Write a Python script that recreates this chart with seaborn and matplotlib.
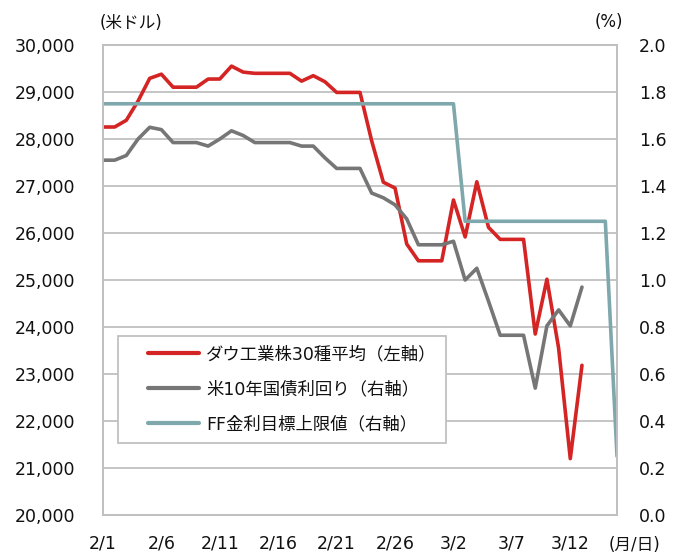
import numpy as np
import pandas as pd
import matplotlib
matplotlib.use("Agg")
import matplotlib.pyplot as plt
import seaborn as sns

# Data (daily, 2020/2/1 - 2020/3/16; weekends carry the last value)
DATES = pd.date_range("2020-02-01", "2020-03-16", freq="D")

DOW = [28256, 28256, 28400, 28808, 29291, 29380, 29103, 29103, 29103, 29276,
       29277, 29551, 29424, 29398, 29398, 29398, 29398, 29232, 29348, 29219,
       28992, 28992, 28992, 27961, 27081, 26957, 25767, 25409, 25409, 25409,
       26703, 25917, 27091, 26121, 25865, 25865, 25865, 23851, 25018, 23553,
       21200, 23186]

UST10Y = [1.51, 1.51, 1.53, 1.60, 1.65, 1.64, 1.585, 1.585, 1.585, 1.57,
          1.60, 1.635, 1.615, 1.585, 1.585, 1.585, 1.585, 1.57, 1.57, 1.52,
          1.475, 1.475, 1.475, 1.37, 1.35, 1.32, 1.26, 1.15, 1.15, 1.15,
          1.165, 1.00, 1.05, 0.91, 0.765, 0.765, 0.765, 0.54, 0.805, 0.873,
          0.805, 0.97]

FF_UPPER = [1.75] * 31 + [1.25] * 13 + [0.25]

TICK_LABELS = ["2/1", "2/6", "2/11", "2/16", "2/21", "2/26", "3/2", "3/7", "3/12"]
SERIES_LABELS = ["ダウ工業株30種平均（左軸）", "米10年国債利回り（右軸）", "FF金利目標上限値（右軸）"]
COLORS = ["#d42424", "#767676", "#7fa8ac"]

sns.set_style("white")
plt.rcParams["font.family"] = ["DejaVu Sans", "Noto Sans CJK JP"]

fig = plt.figure(figsize=(6.77, 5.56), dpi=100)
ax = fig.add_axes([0.1521, 0.0737, 0.7593, 0.8453])
ax2 = ax.twinx()

dow_df = pd.DataFrame({"date": DATES[:len(DOW)], "value": DOW})
ust_df = pd.DataFrame({"date": DATES[:len(UST10Y)], "value": UST10Y})
ff_df = pd.DataFrame({"date": DATES[:len(FF_UPPER)], "value": FF_UPPER})

sns.lineplot(data=dow_df, x="date", y="value", ax=ax, color=COLORS[0], linewidth=2.6)
sns.lineplot(data=ust_df, x="date", y="value", ax=ax2, color=COLORS[1], linewidth=2.6)
sns.lineplot(data=ff_df, x="date", y="value", ax=ax2, color=COLORS[2], linewidth=2.6)

grid_c = "#c0c0c0"

# left axis
ax.set_ylim(20000, 30000)
ax.set_yticks(range(20000, 30001, 1000))
ax.set_yticklabels([f"{v:,}" for v in range(20000, 30001, 1000)])
ax.yaxis.grid(True, color=grid_c, linewidth=1.3)
ax.set_axisbelow(True)

# right axis
ax2.set_ylim(0, 2.0)
ax2.set_yticks([i / 5 for i in range(11)])
ax2.set_yticklabels([f"{i / 5:.1f}" for i in range(11)])

ax.set_xlim(DATES[0], DATES[-1])
ax.set_xticks(DATES[::5][:len(TICK_LABELS)])
ax.set_xticklabels(TICK_LABELS)

for a in (ax, ax2):
    a.set_xlabel("")
    a.set_ylabel("")
    for sp in a.spines.values():
        sp.set_color(grid_c)
        sp.set_linewidth(1.3)

ax.tick_params(axis="y", length=0, pad=20, labelsize=12.5, colors="#111111")
ax2.tick_params(axis="y", length=0, pad=16, labelsize=12.5, colors="#111111")
ax.tick_params(axis="x", length=7, width=1.3, color=grid_c, pad=7,
               labelsize=12.5, labelcolor="#111111", direction="out")

# unit labels
fig.text(100 / 677, 1 - 23 / 556, "(米ドル)", fontsize=12, va="center", ha="left",
         color="#111111")
fig.text(609 / 677, 1 - 22 / 556, "(%)", fontsize=12, va="center", ha="center",
         color="#111111")
fig.text(635 / 677, 1 - 545 / 556, "(月/日)", fontsize=12, va="center", ha="center",
         color="#111111")

# legend combining both axes
handles = [ax.get_lines()[0], ax2.get_lines()[0], ax2.get_lines()[1]]
if ax.get_legend() is not None:
    ax.get_legend().remove()
leg = ax2.legend(handles, SERIES_LABELS, loc="upper left",
                 bbox_to_anchor=(0.029, 0.381), fontsize=12.5,
                 frameon=True, fancybox=False, framealpha=1,
                 edgecolor=grid_c, handlelength=4.15, handletextpad=0.4,
                 labelspacing=0.98, borderpad=0.55, borderaxespad=0)
leg.get_frame().set_linewidth(1.3)
for t in leg.get_texts():
    t.set_color("#111111")
# leave extra space on the left of the handle lines, as in the original
for ln in leg.legend_handles:
    xd = np.asarray(ln.get_xdata(), dtype=float)
    x0, x1 = xd[0], xd[-1]
    ln.set_xdata(np.linspace(x0 + (x1 - x0) * 0.28, x1, len(xd)))
    ln.set_linewidth(3)

fig.savefig("out.png", dpi=100)
